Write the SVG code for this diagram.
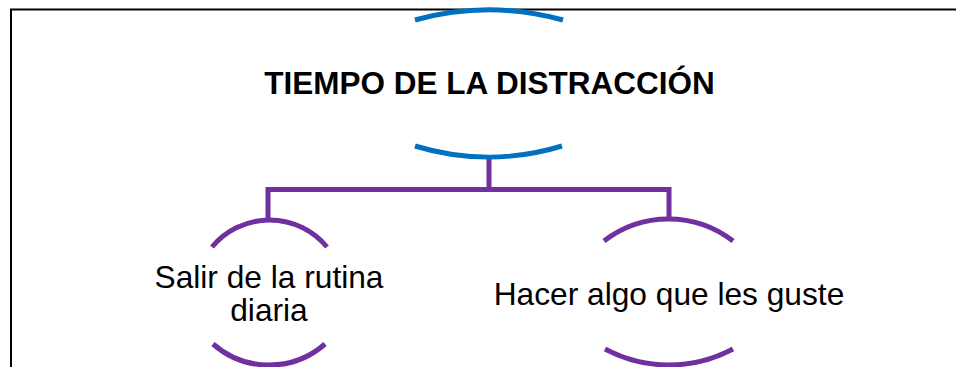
<svg xmlns="http://www.w3.org/2000/svg" width="956" height="367" viewBox="0 0 956 367">
<style>
.txt{font-family:"Liberation Sans",Arial,sans-serif;fill:#000;text-anchor:middle}
.title{font-size:31.5px;font-weight:bold}
.lbl{font-size:31.7px}
.blue{fill:none;stroke:#0070C0;stroke-width:5}
.purple{fill:none;stroke:#7030A0;stroke-width:5}
.conn{fill:none;stroke:#7030A0;stroke-width:5}
</style>
<rect x="0" y="0" width="956" height="367" fill="#fff"/>
<g id="border">
<path d="M10 9.5 H956 M11 9.5 V367" fill="none" stroke="#000" stroke-width="2"/>
</g>
<g id="connectors">
<path class="conn" d="M489 157 V189.5"/>
<path class="conn" d="M268 218 V189.5 H669 V218"/>
</g>
<g id="node-title">
<path class="blue" d="M415 20 A279 279 0 0 1 563 20"/>
<path class="blue" d="M415 146 A251 251 0 0 0 562 146"/>
<text class="txt title" x="489.5" y="94">TIEMPO DE LA DISTRACCIÓN</text>
</g>
<g id="node-salir">
<path class="purple" d="M212 247 A74.7 74.7 0 0 1 327 247"/>
<path class="purple" d="M213 344 A85 85 0 0 0 325 344"/>
<text class="txt lbl" x="269" y="288">Salir de la rutina</text>
<text class="txt lbl" x="269" y="320.5">diaria</text>
</g>
<g id="node-hacer">
<path class="purple" d="M604 241 A105.5 105.5 0 0 1 733 241"/>
<path class="purple" d="M605 349 A136 136 0 0 0 733 349"/>
<text class="txt lbl" x="669" y="305">Hacer algo que les guste</text>
</g>
</svg>
